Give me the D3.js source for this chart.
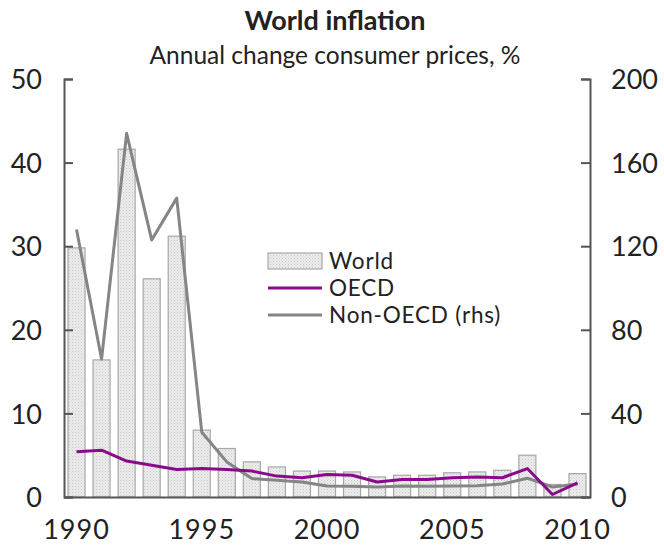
<!DOCTYPE html>
<html>
<head>
<meta charset="utf-8">
<script src="https://cdn.jsdelivr.net/npm/d3@7"></script>
<style>
  html, body { margin: 0; padding: 0; background: #fff; }
  svg { display: block; }
  text { font-family: Lato, "Open Sans", sans-serif; fill: #222; }
</style>
</head>
<body>
<script>
const years = d3.range(1990, 2011);
const worldValues = [29.8, 16.4, 41.6, 26.1, 31.2, 8.0, 5.8, 4.2, 3.6, 3.1, 3.1, 3.0, 2.4, 2.6, 2.6, 2.9, 3.0, 3.2, 5.0, 1.5, 2.8];
const oecdValues = [5.4, 5.6, 4.3, 3.8, 3.3, 3.4, 3.3, 3.1, 2.5, 2.3, 2.7, 2.6, 1.8, 2.1, 2.1, 2.3, 2.4, 2.3, 3.4, 0.3, 1.7];
const nonOecdValues = [128, 66, 174, 123, 143, 31, 16.8, 8.8, 8.0, 7.2, 5.3, 5.1, 4.8, 5.3, 5.1, 5.3, 5.4, 6.2, 9.0, 4.8, 6.2];
const leftTicks = [0, 10, 20, 30, 40, 50];
const rightTicks = [0, 40, 80, 120, 160, 200];
const xTickYears = [1990, 1995, 2000, 2005, 2010];
const legendLabels = ["World", "OECD", "Non-OECD (rhs)"];

const W = 664, H = 552;
const m = { left: 64, right: 74, top: 79, bottom: 55 };
const x0 = m.left, x1 = W - m.right, y0 = H - m.bottom, y1 = m.top;
const FONT = "Lato, 'Open Sans', sans-serif";

const svg = d3.select("body").append("svg").attr("width", W).attr("height", H);

const defs = svg.append("defs");
const pat = defs.append("pattern").attr("id", "dots").attr("patternUnits", "userSpaceOnUse")
  .attr("width", 3).attr("height", 3);
pat.append("rect").attr("width", 3).attr("height", 3).attr("fill", "#ececec");
pat.append("rect").attr("x", 0).attr("y", 0).attr("width", 1).attr("height", 1).attr("fill", "#cacaca");
pat.append("rect").attr("x", 1.5).attr("y", 1.5).attr("width", 1).attr("height", 1).attr("fill", "#d4d4d4");

const x = d3.scaleBand().domain(years).range([x0, x1]).paddingInner(0.32).paddingOuter(0.16);
const yL = d3.scaleLinear().domain([0, 50]).range([y0, y1]);
const yR = d3.scaleLinear().domain([0, 200]).range([y0, y1]);
const cx = d => x(d) + x.bandwidth() / 2;

// title
svg.append("text").attr("x", 335).attr("y", 30).attr("text-anchor", "middle")
  .style("font-size", "27px").style("font-weight", "bold").text("World inflation");
svg.append("text").attr("x", 335).attr("y", 64).attr("text-anchor", "middle")
  .style("font-size", "24.5px").text("Annual change consumer prices, %");

// bars
svg.append("g").selectAll("rect").data(years).join("rect")
  .attr("x", d => x(d)).attr("width", x.bandwidth())
  .attr("y", (d, i) => yL(worldValues[i])).attr("height", (d, i) => y0 - yL(worldValues[i]))
  .attr("fill", "url(#dots)").attr("stroke", "#a8a8a8").attr("stroke-width", 1.2);

// lines
const lineL = d3.line().x((d, i) => cx(years[i])).y(d => yL(d));
const lineR = d3.line().x((d, i) => cx(years[i])).y(d => yR(d));
svg.append("path").datum(nonOecdValues).attr("d", lineR).attr("fill", "none")
  .attr("stroke", "#858585").attr("stroke-width", 3).attr("stroke-linejoin", "round");
svg.append("path").datum(oecdValues).attr("d", lineL).attr("fill", "none")
  .attr("stroke", "#8a0a8c").attr("stroke-width", 3).attr("stroke-linejoin", "round");

// axes
const axisColor = "#555";
const gL = svg.append("g").attr("transform", `translate(${x0},0)`)
  .call(d3.axisRight(yL).tickValues(leftTicks).tickSize(9).tickFormat(d3.format("d")));
gL.selectAll("text").attr("x", -22).attr("text-anchor", "end");
const gR = svg.append("g").attr("transform", `translate(${x1},0)`)
  .call(d3.axisLeft(yR).tickValues(rightTicks).tickSize(9).tickFormat(d3.format("d")));
gR.selectAll("text").attr("x", 21).attr("text-anchor", "start");
[gL, gR].forEach(g => {
  g.select(".domain").attr("stroke", axisColor).attr("stroke-width", 2);
  g.selectAll(".tick line").attr("stroke", axisColor).attr("stroke-width", 2);
  g.selectAll("text").style("font-size", "27px").style("font-family", FONT)
    .attr("fill", "#222").attr("dy", "0.36em");
});
const gB = svg.append("g").attr("transform", `translate(0,${y0})`)
  .call(d3.axisBottom(x).tickValues(xTickYears).tickSize(0).tickPadding(21));
gB.select(".domain").attr("stroke", axisColor).attr("stroke-width", 2);
gB.selectAll("text").style("font-size", "27px").style("font-family", FONT)
  .style("letter-spacing", "1px").attr("fill", "#222").attr("dy", "0.78em");

// legend
const lg = svg.append("g");
const lx = 268, ly = [261, 288, 315];
lg.append("rect").attr("x", lx).attr("y", ly[0] - 8).attr("width", 54).attr("height", 16)
  .attr("fill", "url(#dots)").attr("stroke", "#a8a8a8").attr("stroke-width", 1.2);
lg.append("line").attr("x1", lx).attr("x2", lx + 54).attr("y1", ly[1]).attr("y2", ly[1])
  .attr("stroke", "#8a0a8c").attr("stroke-width", 3);
lg.append("line").attr("x1", lx).attr("x2", lx + 54).attr("y1", ly[2]).attr("y2", ly[2])
  .attr("stroke", "#858585").attr("stroke-width", 3);
lg.selectAll("text").data(legendLabels).join("text")
  .attr("x", lx + 61).attr("y", (d, i) => ly[i]).attr("dy", "0.36em")
  .style("font-size", "22.5px").style("letter-spacing", "0.8px").text(d => d);
</script>
</body>
</html>
